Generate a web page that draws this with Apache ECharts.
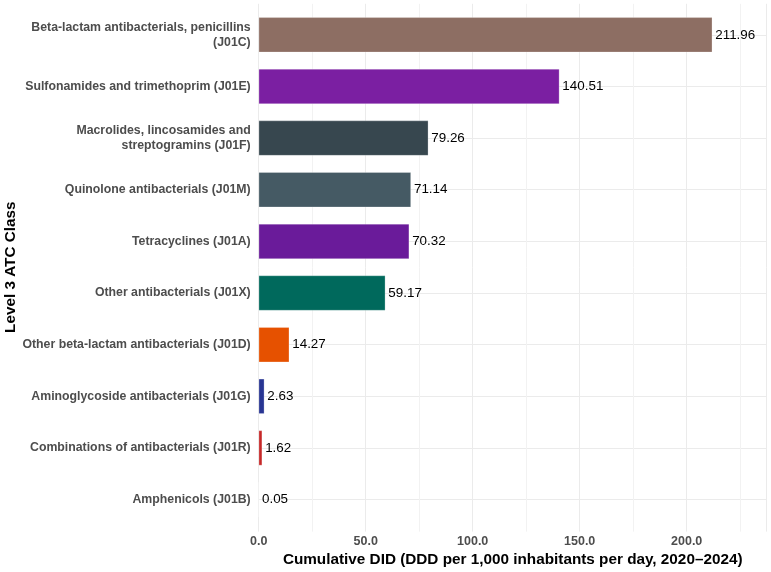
<!DOCTYPE html>
<html>
<head>
<meta charset="utf-8">
<script src="https://cdn.jsdelivr.net/npm/echarts@6/dist/echarts.min.js"></script>
<style>
html,body{margin:0;padding:0;background:#fff;}
#chart{width:771px;height:572px;}
</style>
</head>
<body>
<div id="chart"></div>
<script>
const categories = [
  "Beta-lactam antibacterials, penicillins\n(J01C)",
  "Sulfonamides and trimethoprim (J01E)",
  "Macrolides, lincosamides and\nstreptogramins (J01F)",
  "Quinolone antibacterials (J01M)",
  "Tetracyclines (J01A)",
  "Other antibacterials (J01X)",
  "Other beta-lactam antibacterials (J01D)",
  "Aminoglycoside antibacterials (J01G)",
  "Combinations of antibacterials (J01R)",
  "Amphenicols (J01B)"
];
const values = [211.96, 140.51, 79.26, 71.14, 70.32, 59.17, 14.27, 2.63, 1.62, 0.05];
const barColors = ["#8D6E63", "#7B1FA2", "#37474F", "#455A64", "#6A1B9A", "#00695C", "#E65100", "#283593", "#C62828", "#1565C0"];
const xTicks = [0, 50, 100, 150, 200];

const FONT = "Liberation Sans, Arial, sans-serif";
const X_MAX = 237.4;
const N = categories.length;

const chart = echarts.init(document.getElementById('chart'), null, {renderer: 'canvas'});
chart.setOption({
  animation: false,
  backgroundColor: '#ffffff',
  grid: [
    {left: 258.7, right: 4.3, top: 9.0, bottom: 46.6, outerBoundsMode: 'none', containLabel: false},
    {left: 258.7, right: 4.3, top: 3.8, bottom: 40.4, outerBoundsMode: 'none', containLabel: false},
    {left: 258.7, right: 4.3, top: 34.8, bottom: 72.4, outerBoundsMode: 'none', containLabel: false}
  ],
  xAxis: [
    {
      gridIndex: 0, type: 'value', min: 0, max: X_MAX, interval: 50,
      name: 'Cumulative DID (DDD per 1,000 inhabitants per day, 2020\u20132024)',
      nameLocation: 'middle', nameGap: 27, nameMoveOverlap: false,
      nameTextStyle: {fontFamily: FONT, fontWeight: 'bold', fontSize: 15.3, color: '#000'},
      axisLine: {show: false}, axisTick: {show: false},
      splitLine: {show: false},
      axisLabel: {
        margin: 10, fontFamily: FONT, fontWeight: 'bold', fontSize: 12.5, color: '#4d4d4d',
        formatter: v => xTicks.includes(v) ? v.toFixed(1) : ''
      }
    },
    {
      gridIndex: 1, type: 'value', min: 0, max: X_MAX, interval: 50,
      axisLine: {show: false}, axisTick: {show: false}, axisLabel: {show: false},
      splitLine: {show: true, lineStyle: {color: '#ebebeb', width: 1}},
      minorTick: {show: false, splitNumber: 2},
      minorSplitLine: {show: true, lineStyle: {color: '#f2f2f2', width: 1}}
    },
    {
      gridIndex: 2, type: 'value', min: 0, max: X_MAX, show: false
    }
  ],
  yAxis: [
    {
      gridIndex: 0, type: 'category', data: categories, inverse: true,
      name: 'Level 3 ATC Class', nameLocation: 'middle', nameGap: 240, nameRotate: 90,
      nameMoveOverlap: false,
      nameTextStyle: {fontFamily: FONT, fontWeight: 'bold', fontSize: 15.3, color: '#000'},
      axisLine: {show: false}, axisTick: {show: false}, splitLine: {show: false},
      axisLabel: {
        margin: 8, fontFamily: FONT, fontWeight: 'bold', fontSize: 12.3, color: '#4d4d4d',
        lineHeight: 15, align: 'right'
      }
    },
    {gridIndex: 1, type: 'value', show: false, min: 0, max: 1},
    {
      gridIndex: 2, type: 'value', min: 0, max: N - 1, interval: 1, inverse: true,
      axisLine: {show: false}, axisTick: {show: false}, axisLabel: {show: false},
      splitLine: {show: true, lineStyle: {color: '#ebebeb', width: 1}}
    }
  ],
  series: [
    {
      type: 'bar', xAxisIndex: 0, yAxisIndex: 0, z: 3,
      barWidth: 35,
      data: values.map((v, i) => ({value: v, itemStyle: {color: barColors[i]}})),
      itemStyle: {borderColor: 'rgba(255,255,255,0.5)', borderWidth: 0.5},
      label: {
        show: true, position: 'right', distance: 3,
        fontFamily: FONT, fontSize: 13.4, color: '#000',
        formatter: p => p.value.toFixed(2)
      }
    }
  ]
});
</script>
</body>
</html>
